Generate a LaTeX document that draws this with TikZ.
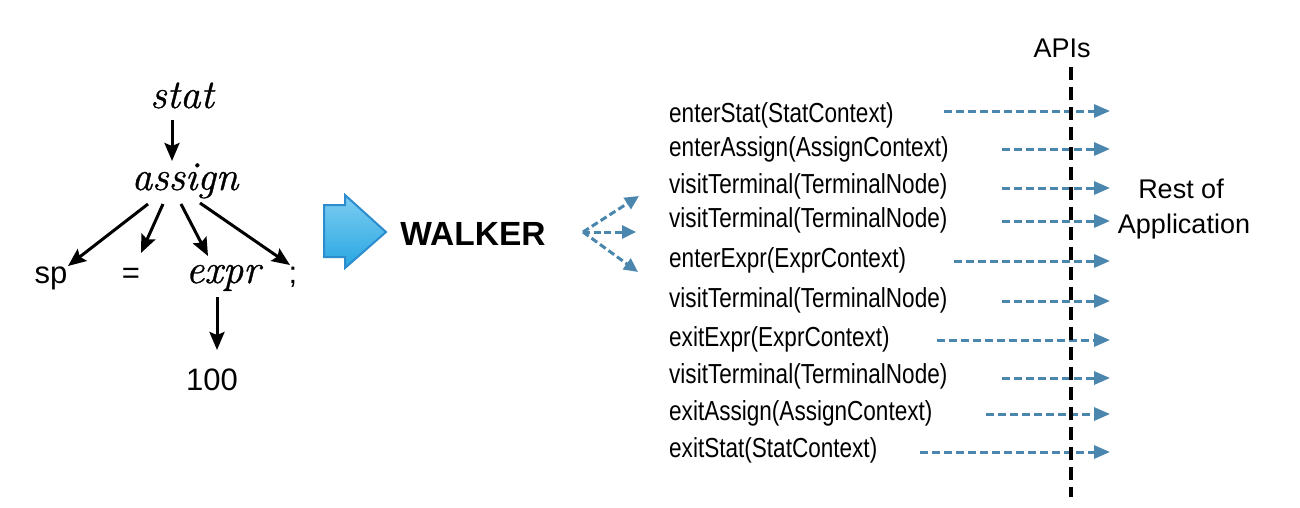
\documentclass[tikz,border=0pt]{standalone}
\usepackage{fontspec}
\newfontfamily\sansf{Liberation Sans}
\newfontfamily\condf[FakeStretch=0.82]{Liberation Sans}
\newfontfamily\itf[FakeBold=0.8]{Latin Modern Roman}
\usetikzlibrary{arrows.meta,calc}
\definecolor{apiblue}{RGB}{74,134,173}
\definecolor{arrowtop}{RGB}{125,205,242}
\definecolor{arrowbot}{RGB}{40,166,225}
\definecolor{arrowedge}{RGB}{45,140,205}
\begin{document}
\begin{tikzpicture}[x=1pt,y=-1pt,
  treearrow/.style={line width=3pt,-{Stealth[length=18pt,width=15pt,inset=3pt]}},
  call/.style={apiblue,line width=3pt,dash pattern=on 8pt off 4pt,-{Triangle[length=16pt,width=13pt]}},
  fanarrow/.style={apiblue,line width=3pt,dash pattern=on 7pt off 3.5pt,-{Triangle[length=14pt,width=13pt]}},
  itlabel/.style={anchor=base,inner sep=0,font=\itf\itshape\fontsize{41}{48}\selectfont},
  sanslabel/.style={anchor=base,inner sep=0,font=\sansf\fontsize{31}{36}\selectfont},
  rowtxt/.style={anchor=base west,inner sep=0,font=\condf\fontsize{27.5}{32}\selectfont},
  plain/.style={anchor=base,inner sep=0,font=\sansf\fontsize{27}{32}\selectfont}]
\useasboundingbox (0,0) rectangle (1300,507);

% ---- parse tree ----
\node[itlabel] (stat) at (182,108) {stat};
\node[itlabel] (assign) at (185,190) {assign};
\node[sanslabel] (sp) at (51,283) {sp};
\node[sanslabel] (eq) at (131,283) {=};
\node[itlabel] (expr) at (223,283) {expr};
\node[sanslabel] (semi) at (293,283) {;};
\node[sanslabel] (hundred) at (212,390) {100};

\draw[treearrow] ([shift={(-10,12)}]stat.base) -- ([shift={(-13,-29)}]assign.base);
\draw[treearrow] ([shift={(-37,14)}]assign.base) -- ([shift={(17,-17)}]sp.base);
\draw[treearrow] ([shift={(-22,14)}]assign.base) -- ([shift={(10,-30)}]eq.base);
\draw[treearrow] ([shift={(-4,14)}]assign.base) -- ([shift={(-15,-27)}]expr.base);
\draw[treearrow] ([shift={(15,13)}]assign.base) -- ([shift={(-3,-18)}]semi.base);
\draw[treearrow] ([shift={(-6,14)}]expr.base) -- ([shift={(5,-40)}]hundred.base);

% ---- block arrow ----
\shade[top color=arrowtop,bottom color=arrowbot,draw=arrowedge,line width=2pt,line join=miter]
  (324,205) -- (345,205) -- (345,195) -- (386,232) -- (345,268) -- (345,257) -- (324,257) -- cycle;

% ---- walker ----
\node[anchor=base,inner sep=0,font=\sansf\bfseries\fontsize{33.5}{40}\selectfont] (walker) at (473,245) {WALKER};
\coordinate (fan) at (583,232);
\coordinate (fanA) at (639,196);
\coordinate (fanB) at (636,232);
\coordinate (fanC) at (638,272);
\draw[fanarrow] (fan) -- (fanA);
\draw[fanarrow] (fan) -- (fanB);
\draw[fanarrow] (fan) -- (fanC);

% ---- API calls ----
\foreach \i/\b/\a/\s/\t in {
  1/122/111/944/enterStat(StatContext),
  2/156/149/1002/enterAssign(AssignContext),
  3/193/188/1002/visitTerminal(TerminalNode),
  4/227/221/1002/visitTerminal(TerminalNode),
  5/267/261/954/enterExpr(ExprContext),
  6/307/301/1002/visitTerminal(TerminalNode),
  7/346/340/937/exitExpr(ExprContext),
  8/383/378/1002/visitTerminal(TerminalNode),
  9/420/414/986/exitAssign(AssignContext),
  10/457/452/920/exitStat(StatContext)}{
  \node[rowtxt] (r\i) at (669,\b) {\t};
  \coordinate (s\i) at (\s,\a);
  \coordinate (e\i) at (1110,\a);
  \draw[call] (s\i) -- (e\i);
}

\node[plain] (api) at (1062,57) {APIs};
\coordinate (vtop) at (1071,67);
\coordinate (vbot) at (1071,497);
\draw[line width=3.5pt,dash pattern=on 13pt off 7pt] (vtop) -- (vbot);

\node[plain] (rest) at (1181,198) {Rest of};
\node[plain] (app) at (1184,233) {Application};
\end{tikzpicture}
\end{document}
